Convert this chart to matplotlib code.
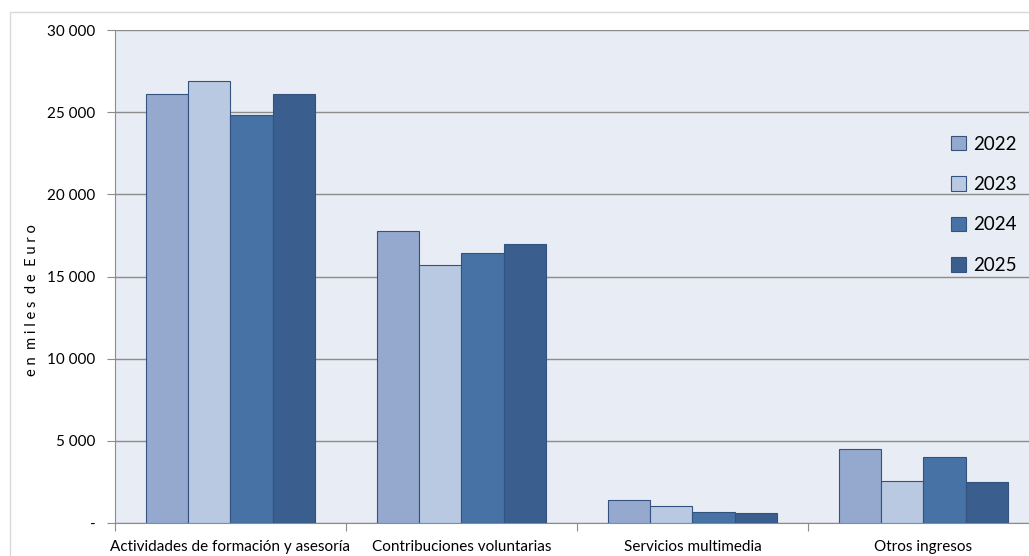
import numpy as np
import matplotlib.pyplot as plt
from matplotlib.patches import Rectangle

# data (miles de Euro)
categories = ["Actividades de formación y asesoría", "Contribuciones voluntarias",
              "Servicios multimedia", "Otros ingresos"]
years = ["2022", "2023", "2024", "2025"]
v2022 = [26100, 17750, 1400, 4500]
v2023 = [26900, 15700, 1030, 2550]
v2024 = [24850, 16450, 670, 4000]
v2025 = [26100, 17000, 610, 2500]
yticks = [0, 5000, 10000, 15000, 20000, 25000, 30000]
ytick_labels = ["-", "5 000", "10 000", "15 000", "20 000", "25 000", "30 000"]

colors = ["#95A9CF", "#B9C9E1", "#4672A5", "#3A5F8E"]
edge = "#34527F"
plt.rcParams['font.family'] = ['Lato', 'DejaVu Sans']

fig = plt.figure(figsize=(10.29, 5.56), dpi=100, facecolor="white")
# outer chart border
fig.patches.append(Rectangle((10 / 1029, -0.05), 1.1, 1 - 12 / 556 + 0.05,
                             transform=fig.transFigure, fill=False,
                             edgecolor="#D9D9D9", linewidth=1.0))

ax = fig.add_axes([115 / 1029, 33 / 556, 924 / 1029, 493 / 556])
ax.set_facecolor("#E8ECF4")

series = [v2022, v2023, v2024, v2025]
x = np.arange(len(categories)) + 0.5
w = 0.182
for i, (vals, lab) in enumerate(zip(series, years)):
    ax.bar(x + (i - 1.5) * w, vals, w, color=colors[i], edgecolor=edge,
           linewidth=0.8, label=lab, zorder=3)

ax.set_xlim(0, len(categories))
ax.set_ylim(0, 30000)
ax.set_yticks(yticks)
ax.set_yticklabels(ytick_labels, fontsize=11)
ax.set_xticks(np.arange(len(categories) + 1))
ax.set_xticklabels([])
ax.set_xticks(x, minor=True)
ax.set_xticklabels(categories, minor=True, fontsize=11)
ax.tick_params(axis="x", which="minor", length=0, pad=12)
ax.tick_params(axis="x", which="major", length=6, color="#8C8C8C")
ax.tick_params(axis="y", length=6, color="#8C8C8C", pad=8)

ax.yaxis.grid(True, color="#8C8C8C", linewidth=1.0, zorder=0)
ax.set_axisbelow(True)
for s in ("top", "right"):
    ax.spines[s].set_visible(False)
ax.spines["left"].set_color("#8C8C8C")
ax.spines["bottom"].set_color("#8C8C8C")

# y label placed in figure coords, slightly letter-spaced like the original
fig.text(32 / 1029, 1 - 300 / 556, "e n  m i l e s  d e  E u r o", rotation=90,
         ha="center", va="center", fontsize=10.5)

ax.legend(loc="upper left", bbox_to_anchor=(0.887, 0.82), frameon=False,
          fontsize=13.5, labelspacing=1.25, handlelength=0.8, handleheight=0.8,
          handletextpad=0.35)

fig.savefig("out.png", dpi=100, facecolor="white")
